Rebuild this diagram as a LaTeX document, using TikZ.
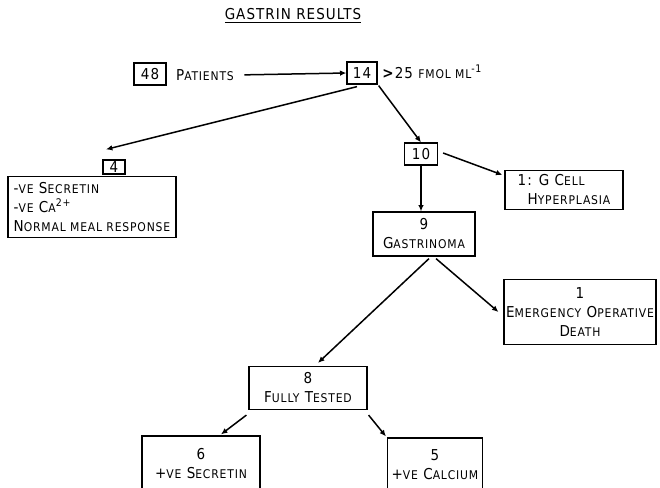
\documentclass[tikz,border=0pt]{standalone}
\usepackage{fontspec}
\setmainfont{DejaVu Sans Condensed}[LetterSpace=7]
\usepackage{tikz}
\usetikzlibrary{arrows.meta, positioning, calc}

% small caps by hand
\newcommand{\lc}[1]{{\fontsize{6}{7}\selectfont\MakeUppercase{#1}}}

\begin{document}
\begin{tikzpicture}[
    x=0.5pt, y=-0.5pt,
    every node/.style={font=\fontsize{7.5}{9.5}\selectfont, inner sep=1pt},
    box/.style={rectangle, draw, line width=0.6pt, align=center},
    arrow/.style={-{Latex[length=3.2pt, width=2.8pt]}, line width=0.75pt}
]
    \clip (0,0) rectangle (660,488);

    \node (title) at (293,16) {\underline{GASTRIN RESULTS}};

    \node[box, minimum width=16pt, minimum height=11pt] (n48) at (150,74) {48};
    \node (pat) at (205,75) {P\lc{atients}};
    \node[box, minimum width=15pt, minimum height=11pt] (n14) at (362,73) {14};
    \node[anchor=west] (gt) at (380,72) {\textbf{>}25 \lc{fmol ml}\textsuperscript{-1}};

    \node[box, minimum width=11pt, minimum height=7pt, inner sep=0pt] (n4) at (114,167) {4};
    \node[box, minimum width=84pt, minimum height=30.5pt, align=left] (neg) at (92,207)
        {-\lc{ve} S\lc{ecretin}\\-\lc{ve} C\lc{a}\textsuperscript{2+}\\N\lc{ormal meal response}};

    \node[box, minimum width=16.5pt, minimum height=11pt] (n10) at (421,154) {10};
    \node[box, minimum width=59pt, minimum height=19.5pt, align=left] (hyp) at (564,190)
        {1: G C\lc{ell}\\\hspace*{5pt}H\lc{yperplasia}};

    \node[box, minimum width=51pt, minimum height=22pt] (gas) at (424,234) {9\\G\lc{astrinoma}};
    \node[box, minimum width=74.5pt, minimum height=32.5pt] (emer) at (580,312)
        {1\\E\lc{mergency} O\lc{perative}\\D\lc{eath}};

    \node[box, minimum width=59pt, minimum height=21.5pt] (full) at (308,388) {8\\F\lc{ully} T\lc{ested}};
    \node[box, minimum width=59pt, minimum height=28pt] (sec) at (201,464) {6\\+\lc{ve} S\lc{ecretin}};
    \node[box, minimum width=47.5pt, minimum height=27pt] (cal) at (435,465) {5\\+\lc{ve} C\lc{alcium}};

    \draw[arrow, shorten <=4pt] (pat.east) -- (n14.west);
    \draw[arrow] ($(n14.south)+(-5,2)$) -- ($(n4.north)+(-8,-10)$);
    \draw[arrow] ($(n14.south east)+(1,1)$) -- (n10.north);
    \draw[arrow] ($(n10.east)+(5,-1)$) -- ($(hyp.north west)+(-2,5)$);
    \draw[arrow] (n10.south) -- (n10.south |- gas.north);
    \draw[arrow] ($(gas.south)+(5,2)$) -- ($(full.north)+(10,-3)$);
    \draw[arrow] ($(gas.south)+(12,2)$) -- ($(emer.west)+(-5,0)$);
    \draw[arrow] ($(full.south west)+(-2,5)$) -- ($(sec.north)+(20,-1)$);
    \draw[arrow] ($(full.south east)+(1,5)$) -- ($(cal.north west)+(-1,-1)$);
\end{tikzpicture}
\end{document}
